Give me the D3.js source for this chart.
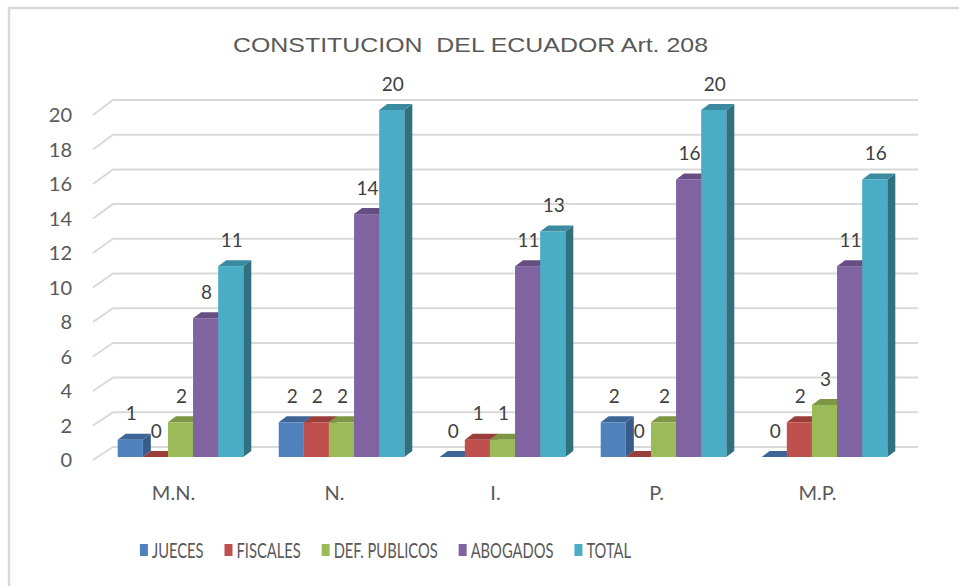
<!DOCTYPE html>
<html>
<head>
<meta charset="utf-8">
<script src="https://cdn.jsdelivr.net/npm/d3@7"></script>
<style>
  body { margin: 0; background: #fff; }
  svg { display: block; }
</style>
</head>
<body>
<div id="chart"></div>
<script>
// data
var categories = ["M.N.", "N.", "I.", "P.", "M.P."];
var seriesNames = ["JUECES", "FISCALES", "DEF. PUBLICOS", "ABOGADOS", "TOTAL"];
var jueces = [1, 2, 0, 2, 0];
var fiscales = [0, 2, 1, 0, 2];
var defPublicos = [2, 2, 1, 2, 3];
var abogados = [8, 14, 11, 16, 11];
var total = [11, 20, 13, 20, 16];
var yTicks = [0, 2, 4, 6, 8, 10, 12, 14, 16, 18, 20];
var title = "CONSTITUCION  DEL ECUADOR Art. 208";

var seriesValues = [jueces, fiscales, defPublicos, abogados, total];

// front / top / side shades of each series (Office 2007 palette)
var shades = [
    {front: "#4F81BD", top: "#3D6596", side: "#385D8A"},
    {front: "#C0504D", top: "#9A3E3C", side: "#8C3836"},
    {front: "#9BBB59", top: "#7C9646", side: "#71893F"},
    {front: "#8064A2", top: "#664E82", side: "#5C4776"},
    {front: "#4BACC6", top: "#3A8AA0", side: "#31707F"}
];

var width = 959, height = 586;
var depthX = 8, depthY = -6;      // bar depth
var wallX = 20, wallY = -13;      // floor depth of the plot box

var svg = d3.select("#chart").append("svg")
    .attr("width", width)
    .attr("height", height);

// chart frame (only top and left edges are in the crop)
svg.append("path")
    .attr("d", "M9,586 L9,8 L959,8")
    .attr("fill", "none")
    .attr("stroke", "#d9d9d9")
    .attr("stroke-width", 2.5);

var x = d3.scaleBand().domain(categories)
    .range([100, 905]).paddingInner(0.22).paddingOuter(0.11);
var xs = d3.scaleBand().domain(seriesNames).range([0, x.bandwidth()]);

var yFront = d3.scaleLinear().domain([0, 20]).range([460, 115]);
var yBack = d3.scaleLinear().domain([0, 20]).range([447, 100]);
var yBar = d3.scaleLinear().domain([0, 20]).range([457, 110]);

var plotLeft = 93, plotRight = 918;

// gridlines: a short slanted piece on the side wall, then the back wall
svg.append("g").selectAll("path")
    .data(yTicks).enter()
    .append("path")
    .attr("d", function(v) {
        return "M" + plotLeft + "," + yFront(v)
            + " L" + (plotLeft + wallX) + "," + yBack(v)
            + " L" + plotRight + "," + yBack(v);
    })
    .attr("fill", "none")
    .attr("stroke", "#d9d9d9")
    .attr("stroke-width", 2);

// y tick labels
svg.append("g").selectAll("text")
    .data(yTicks).enter()
    .append("text")
    .attr("x", 72)
    .attr("y", function(v) { return yFront(v); })
    .attr("dy", "0.36em")
    .attr("text-anchor", "end")
    .attr("font-family", "Lato, 'Open Sans', sans-serif")
    .attr("font-size", 20)
    .attr("fill", "#595959")
    .text(function(v) { return v; });

// bars, drawn left to right so each one hides the side of the previous
var bars = [];
categories.forEach(function(cat, ci) {
    seriesNames.forEach(function(name, si) {
        bars.push({cat: cat, series: si, name: name, value: seriesValues[si][ci]});
    });
});

var gBars = svg.append("g");
bars.forEach(function(b) {
    var x0 = x(b.cat) + xs(b.name), w = xs.bandwidth();
    var yt = yBar(b.value), yb = yBar(0);
    var c = shades[b.series];
    var g = gBars.append("g");

    g.append("path")
        .attr("d", "M" + (x0 + w) + "," + yt
            + " L" + (x0 + w + depthX) + "," + (yt + depthY)
            + " L" + (x0 + w + depthX) + "," + (yb + depthY)
            + " L" + (x0 + w) + "," + yb + " Z")
        .attr("fill", c.side);

    g.append("path")
        .attr("d", "M" + x0 + "," + yt
            + " L" + (x0 + depthX) + "," + (yt + depthY)
            + " L" + (x0 + w + depthX) + "," + (yt + depthY)
            + " L" + (x0 + w) + "," + yt + " Z")
        .attr("fill", c.top);

    g.append("rect")
        .attr("x", x0)
        .attr("y", yt)
        .attr("width", w)
        .attr("height", yb - yt)
        .attr("fill", c.front);
});

// value labels
svg.append("g").selectAll("text")
    .data(bars).enter()
    .append("text")
    .attr("x", function(b) { return x(b.cat) + xs(b.name) + xs.bandwidth() / 2 + 1; })
    .attr("y", function(b) { return yBar(b.value) - 26; })
    .attr("dy", "0.36em")
    .attr("text-anchor", "middle")
    .attr("font-family", "Lato, 'Open Sans', sans-serif")
    .attr("font-size", 19)
    .attr("fill", "#404040")
    .text(function(b) { return b.value; });

// category labels
svg.append("g").selectAll("text")
    .data(categories).enter()
    .append("text")
    .attr("x", function(c) { return x(c) + x.bandwidth() / 2 - 7; })
    .attr("y", 493)
    .attr("dy", "0.36em")
    .attr("text-anchor", "middle")
    .attr("font-family", "Lato, 'Open Sans', sans-serif")
    .attr("font-size", 20)
    .attr("fill", "#595959")
    .text(function(c) { return c; });

// title (keeps the double space of the original)
svg.append("text")
    .attr("x", 470.5)
    .attr("y", 44)
    .attr("dy", "0.36em")
    .attr("text-anchor", "middle")
    .style("white-space", "pre")
    .attr("font-family", "'Liberation Sans', Arial, sans-serif")
    .attr("font-size", 21)
    .attr("fill", "#595959")
    .attr("textLength", 475)
    .attr("lengthAdjust", "spacingAndGlyphs")
    .text(title);

// legend, text squeezed like the original's narrow font
var legend = svg.append("g");
var squeeze = 0.7, cursor = 0;
seriesNames.forEach(function(name, i) {
    var item = legend.append("g").attr("transform", "translate(" + cursor + ",0)");
    item.append("rect")
        .attr("x", 0).attr("y", -6)
        .attr("width", 8).attr("height", 12)
        .attr("fill", shades[i].front);
    var t = item.append("text")
        .attr("x", 12)
        .attr("dy", "0.36em")
        .attr("font-family", "Lato, 'Open Sans', sans-serif")
        .attr("font-size", 21)
        .attr("fill", "#595959")
        .text(name);
    var len = t.node().getComputedTextLength() * squeeze;
    t.attr("textLength", len).attr("lengthAdjust", "spacingAndGlyphs");
    cursor += 12 + len + 21;
});
var legendWidth = cursor - 21;
legend.attr("transform", "translate(" + (385.5 - legendWidth / 2) + ",550)");
</script>
</body>
</html>
